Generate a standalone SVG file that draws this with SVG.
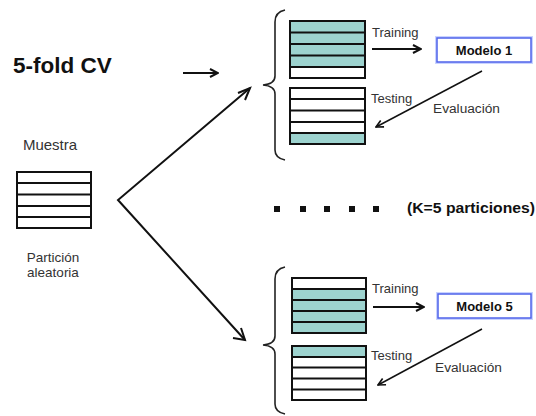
<svg xmlns="http://www.w3.org/2000/svg" width="536" height="416" viewBox="0 0 536 416">
<defs>
<style>
.tb{fill:none;stroke:#111;stroke-width:2}
.teal{fill:#9dd3cf}
.wh{fill:#fff}
.sep{stroke:#111;stroke-width:2}
.lbl{font-family:"Liberation Sans",Arial,sans-serif;fill:#333}
.bold{font-family:"Liberation Sans",Arial,sans-serif;font-weight:bold;fill:#111}
.conn{fill:none;stroke:#111}
.brace{fill:none;stroke:#222;stroke-width:1.6}
</style>
<marker id="ah" viewBox="0 0 10 10" refX="9" refY="5" markerWidth="5" markerHeight="5" orient="auto" markerUnits="strokeWidth">
<path d="M1,1 L9,5 L1,9" fill="none" stroke="#111" stroke-width="2"/>
</marker>
<marker id="ah2" viewBox="0 0 10 10" refX="9" refY="5" markerWidth="6" markerHeight="6" orient="auto" markerUnits="strokeWidth">
<path d="M1,1 L9,5 L1,9" fill="none" stroke="#111" stroke-width="1.8"/>
</marker>
</defs>
<rect width="536" height="416" fill="#fff"/>

<g id="title"><text class="bold" x="13" y="73" font-size="22.5">5-fold CV</text></g>

<g id="muestra">
<text class="lbl" x="50" y="150" font-size="15" text-anchor="middle" fill="#222">Muestra</text>
<rect class="wh" x="17" y="172" width="74" height="56"/>
<line class="sep" x1="17" y1="183" x2="91" y2="183"/>
<line class="sep" x1="17" y1="194.5" x2="91" y2="194.5"/>
<line class="sep" x1="17" y1="206" x2="91" y2="206"/>
<line class="sep" x1="17" y1="217" x2="91" y2="217"/>
<rect class="tb" x="17" y="172" width="74" height="56"/>
</g>

<g id="particion">
<text class="lbl" x="53" y="262" font-size="13.5" text-anchor="middle">Partición</text>
<text class="lbl" x="53" y="277" font-size="13.5" text-anchor="middle">aleatoria</text>
</g>

<g id="fold1">
<path class="brace" d="M285,10 Q275,12 275,22 L275,76 Q275,84 263,85 Q275,86 275,94 L275,150 Q275,158 285,160"/>
<g id="train1">
<rect class="teal" x="290" y="21" width="75" height="46"/>
<rect class="wh" x="290" y="67" width="75" height="11"/>
<line class="sep" x1="290" y1="32.5" x2="365" y2="32.5"/>
<line class="sep" x1="290" y1="44" x2="365" y2="44"/>
<line class="sep" x1="290" y1="55.5" x2="365" y2="55.5"/>
<line class="sep" x1="290" y1="67" x2="365" y2="67"/>
<rect class="tb" x="290" y="21" width="75" height="57"/>
</g>
<g id="test1">
<rect class="wh" x="290" y="88" width="75" height="45"/>
<rect class="teal" x="290" y="133" width="75" height="11"/>
<line class="sep" x1="290" y1="99" x2="365" y2="99"/>
<line class="sep" x1="290" y1="110.5" x2="365" y2="110.5"/>
<line class="sep" x1="290" y1="122" x2="365" y2="122"/>
<line class="sep" x1="290" y1="133" x2="365" y2="133"/>
<rect class="tb" x="290" y="88" width="75" height="56"/>
</g>
<text class="lbl" x="372" y="37" font-size="13">Training</text>
<text class="lbl" x="371" y="103" font-size="13">Testing</text>
<text class="lbl" x="433" y="113" font-size="13.7">Evaluación</text>
<g id="modelo1">
<rect x="437" y="38" width="94" height="24" fill="#fff" stroke="#c9d3ff" stroke-width="4"/>
<rect x="437" y="38" width="94" height="24" fill="#fff" stroke="#4f63ea" stroke-width="1.5"/>
<text class="bold" x="484" y="55" font-size="13" text-anchor="middle">Modelo 1</text>
</g>
</g>

<g id="dots" fill="#111">
<rect x="274" y="206" width="6" height="6"/>
<rect x="300" y="206" width="6" height="6"/>
<rect x="324" y="206" width="6" height="6"/>
<rect x="349" y="206" width="6" height="6"/>
<rect x="373" y="206" width="6" height="6"/>
<text class="bold" x="407" y="213" font-size="15" textLength="128" lengthAdjust="spacingAndGlyphs">(K=5 particiones)</text>
</g>

<g id="fold5">
<path class="brace" d="M285,267 Q275,269 275,279 L275,336 Q275,344 263,345 Q275,346 275,354 L275,404 Q275,412 285,414"/>
<g id="train5">
<rect class="wh" x="292" y="278" width="74" height="11"/>
<rect class="teal" x="292" y="289" width="74" height="44"/>
<line class="sep" x1="292" y1="289" x2="366" y2="289"/>
<line class="sep" x1="292" y1="300" x2="366" y2="300"/>
<line class="sep" x1="292" y1="311" x2="366" y2="311"/>
<line class="sep" x1="292" y1="322" x2="366" y2="322"/>
<rect class="tb" x="292" y="278" width="74" height="55"/>
</g>
<g id="test5">
<rect class="teal" x="292" y="346" width="74" height="11"/>
<rect class="wh" x="292" y="357" width="74" height="43"/>
<line class="sep" x1="292" y1="357" x2="366" y2="357"/>
<line class="sep" x1="292" y1="367.5" x2="366" y2="367.5"/>
<line class="sep" x1="292" y1="378.5" x2="366" y2="378.5"/>
<line class="sep" x1="292" y1="389.5" x2="366" y2="389.5"/>
<rect class="tb" x="292" y="346" width="74" height="54"/>
</g>
<text class="lbl" x="372" y="293" font-size="13">Training</text>
<text class="lbl" x="371" y="360" font-size="13">Testing</text>
<text class="lbl" x="435" y="372" font-size="13.7">Evaluación</text>
<g id="modelo5">
<rect x="438" y="294" width="93" height="24" fill="#fff" stroke="#c9d3ff" stroke-width="4"/>
<rect x="438" y="294" width="93" height="24" fill="#fff" stroke="#4f63ea" stroke-width="1.5"/>
<text class="bold" x="484.5" y="311" font-size="13" text-anchor="middle">Modelo 5</text>
</g>
</g>

<g id="connectors">
<line class="conn" x1="183" y1="73" x2="218" y2="73" stroke-width="2" marker-end="url(#ah)"/>
<polyline class="conn" points="250,88 118,200 245,340" stroke-width="2" stroke-linejoin="miter"/>
<path class="conn" d="M238,93 L250,88 L245,100" stroke-width="2"/>
<path class="conn" d="M233,338 L245,340 L241,328" stroke-width="2"/>
<line class="conn" x1="372" y1="49" x2="421" y2="49" stroke-width="2" marker-end="url(#ah)"/>
<line class="conn" x1="482" y1="71" x2="376" y2="127" stroke-width="1.5" marker-end="url(#ah2)"/>
<line class="conn" x1="373" y1="307" x2="424" y2="307" stroke-width="2" marker-end="url(#ah)"/>
<line class="conn" x1="482" y1="329" x2="378" y2="385" stroke-width="1.5" marker-end="url(#ah2)"/>
</g>
</svg>
